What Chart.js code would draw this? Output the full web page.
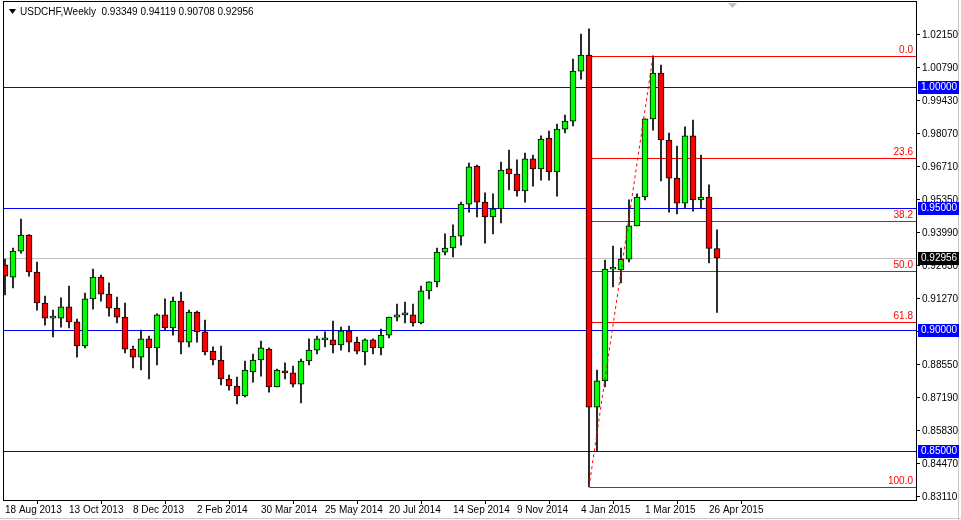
<!DOCTYPE html>
<html><head><meta charset="utf-8">
<script src="https://cdn.jsdelivr.net/npm/chart.js@4/dist/chart.umd.min.js"></script>
<style>html,body{margin:0;padding:0;background:#fff}#w{width:961px;height:520px}</style>
</head><body><div id="w"><canvas id="c" width="961" height="520"></canvas></div>
<script>
const opens  = [0.9267,0.9217,0.9324,0.9390,0.9238,0.9110,0.9048,0.9048,0.9094,0.9032,0.8933,0.9127,0.9217,0.9147,0.9089,0.9052,0.8920,0.8887,0.8962,0.8925,0.9061,0.9007,0.9118,0.8949,0.9073,0.8991,0.8912,0.8875,0.8797,0.8768,0.8727,0.8826,0.8875,0.8920,0.8764,0.8830,0.8822,0.8776,0.8871,0.8916,0.8958,0.8958,0.8937,0.8995,0.8949,0.8908,0.8958,0.8925,0.8978,0.9052,0.9061,0.9061,0.9028,0.9160,0.9197,0.9320,0.9337,0.9386,0.9518,0.9675,0.9526,0.9465,0.9498,0.9663,0.9642,0.9572,0.9704,0.9663,0.9790,0.9650,0.9827,0.9860,1.0066,1.0132,0.8681,0.8789,0.9250,0.9246,0.9291,0.9428,0.9547,0.9869,1.0058,0.9782,0.9625,0.9522,0.9799,0.9535,0.9547,0.93349];
const highs  = [0.9291,0.9337,0.9456,0.9392,0.9279,0.9139,0.9081,0.9131,0.9180,0.9044,0.9151,0.9250,0.9225,0.9193,0.9135,0.9110,0.8933,0.8999,0.8974,0.9065,0.9127,0.9135,0.9155,0.9081,0.9077,0.9040,0.8929,0.8933,0.8813,0.8805,0.8871,0.8900,0.8953,0.8925,0.8838,0.8863,0.8850,0.8879,0.8962,0.8974,0.8991,0.9036,0.9011,0.9015,0.8970,0.8962,0.8962,0.9003,0.9052,0.9106,0.9114,0.9106,0.9180,0.9197,0.9337,0.9395,0.9432,0.9526,0.9687,0.9679,0.9564,0.9560,0.9691,0.9741,0.9700,0.9728,0.9720,0.9799,0.9819,0.9848,0.9885,1.0116,1.0219,1.0240,0.8834,0.9287,0.9345,0.9337,0.9535,0.9560,0.9869,1.0129,1.0091,0.9811,0.9757,0.9836,0.9864,0.9720,0.9597,0.94119];
const lows   = [0.9143,0.9172,0.9316,0.9221,0.9081,0.9019,0.8970,0.9011,0.9007,0.8887,0.8925,0.9085,0.9118,0.9056,0.9028,0.8904,0.8842,0.8834,0.8797,0.8855,0.8999,0.8978,0.8900,0.8929,0.8949,0.8896,0.8855,0.8772,0.8751,0.8694,0.8723,0.8784,0.8809,0.8743,0.8764,0.8797,0.8764,0.8698,0.8855,0.8900,0.8929,0.8904,0.8916,0.8908,0.8900,0.8855,0.8900,0.8896,0.8966,0.9036,0.9028,0.9015,0.9024,0.9127,0.9176,0.9308,0.9300,0.9349,0.9485,0.9465,0.9357,0.9395,0.9440,0.9576,0.9551,0.9526,0.9592,0.9617,0.9617,0.9551,0.9811,0.9840,1.0033,0.8352,0.8500,0.8764,0.9176,0.9193,0.9279,0.9428,0.9535,0.9823,0.9613,0.9485,0.9477,0.9502,0.9489,0.9502,0.9275,0.90708];
const closes = [0.9221,0.9324,0.9390,0.9238,0.9110,0.9048,0.9050,0.9094,0.9032,0.8933,0.9127,0.9217,0.9147,0.9089,0.9052,0.8920,0.8887,0.8962,0.8925,0.9061,0.9007,0.9118,0.8949,0.9073,0.8991,0.8908,0.8875,0.8797,0.8768,0.8727,0.8834,0.8875,0.8925,0.8764,0.8834,0.8822,0.8776,0.8871,0.8916,0.8962,0.8960,0.8937,0.8995,0.8949,0.8912,0.8958,0.8925,0.8978,0.9052,0.9061,0.9065,0.9028,0.9160,0.9197,0.9320,0.9337,0.9386,0.9518,0.9671,0.9526,0.9465,0.9498,0.9658,0.9642,0.9572,0.9704,0.9663,0.9786,0.9650,0.9827,0.9860,1.0066,1.0132,0.8681,0.8789,0.9250,0.9252,0.9291,0.9428,0.9547,0.9869,1.0058,0.9782,0.9625,0.9522,0.9799,0.9535,0.9547,0.9335,0.92956];
const dateLabels = ['18 Aug 2013','13 Oct 2013','8 Dec 2013','2 Feb 2014','30 Mar 2014','25 May 2014','20 Jul 2014','14 Sep 2014','9 Nov 2014','4 Jan 2015','1 Mar 2015','26 Apr 2015'];
const dateTickStep = 8;
const priceTicks = [0.83110,0.84470,0.85830,0.87190,0.88550,0.89910,0.91270,0.92630,0.93990,0.95350,0.96710,0.98070,0.99430,1.00790,1.02150];
const levelLines = [1.0, 0.95, 0.90, 0.85];
const fibLevels = [0, 23.6, 38.2, 50, 61.8, 100];
const fibHigh = 1.0129, fibLow = 0.8352, fibLowIndex = 73, fibHighIndex = 81;
const lastPrice = 0.92956;
const header = 'USDCHF,Weekly  0.93349 0.94119 0.90708 0.92956';

const FAM = '"Liberation Sans", Arial, sans-serif';
const FONT = '10px ' + FAM;
const overlay = {
  id:'overlay',
  beforeDatasetsDraw(ch){
    const {ctx, chartArea:a, scales:{x,y}} = ch;
    ctx.save();
    ctx.lineWidth = 1;
    let py = Math.round(y.getPixelForValue(lastPrice))+0.5;
    ctx.strokeStyle='#c0c0c0'; ctx.beginPath(); ctx.moveTo(a.left,py); ctx.lineTo(a.right,py); ctx.stroke();
    levelLines.forEach(v=>{const yy=Math.round(y.getPixelForValue(v))+0.5;ctx.strokeStyle='#0000ff';ctx.beginPath();ctx.moveTo(a.left,yy);ctx.lineTo(a.right,yy);ctx.stroke();});
    const x0 = Math.round(x.getPixelForValue(fibLowIndex))+0.5;
    ctx.font='10px '+FAM; ctx.textAlign='right'; ctx.textBaseline='bottom';
    fibLevels.forEach(l=>{const v=fibHigh-(fibHigh-fibLow)*l/100;const yy=Math.round(y.getPixelForValue(v))+0.5;
      ctx.strokeStyle='#ff0000';ctx.beginPath();ctx.moveTo(x0,yy);ctx.lineTo(a.right,yy);ctx.stroke();
      ctx.fillStyle='#ff0000';ctx.fillText(l.toFixed(1),a.right-3,yy-1);});
    ctx.restore();
  },
  afterDraw(ch){
    const {ctx, chartArea:a, scales:{y}} = ch;
    ctx.save();
    ctx.strokeStyle='#000'; ctx.lineWidth=1;
    ctx.strokeRect(a.left-0.5,a.top-0.5,a.right-a.left+1,a.bottom-a.top+1);
    ctx.strokeStyle='#c8c8c8';ctx.beginPath();ctx.moveTo(958.5,0);ctx.lineTo(958.5,520);ctx.moveTo(0,518.5);ctx.lineTo(961,518.5);ctx.stroke();
    ctx.font=FONT; ctx.textBaseline='middle'; ctx.textAlign='left';
    const box=(v,bg)=>{const yy=Math.round(y.getPixelForValue(v));ctx.fillStyle=bg;ctx.fillRect(a.right+2,yy-6,41,13);ctx.fillStyle='#fff';ctx.fillText(v.toFixed(5),a.right+5,yy+0.5);};
    levelLines.forEach(v=>box(v,'#0000ff'));
    box(lastPrice,'#000');
    ctx.fillStyle='#000';ctx.textBaseline='middle';ctx.fillText(header,20,12);
    ctx.beginPath();ctx.moveTo(9,9);ctx.lineTo(16,9);ctx.lineTo(12.5,14);ctx.closePath();ctx.fill();
    ctx.fillStyle='#c0c0c0';ctx.beginPath();ctx.moveTo(728,3);ctx.lineTo(737,3);ctx.lineTo(732.5,8);ctx.closePath();ctx.fill();
    ctx.restore();
  }
};

const idx = opens.map((_,i)=>i);
new Chart(document.getElementById('c'),{
  type:'bar',
  data:{datasets:[
    {type:'line',data:[{x:fibLowIndex,y:fibLow},{x:fibHighIndex,y:fibHigh}],borderColor:'#ff0000',borderWidth:1,borderDash:[3,3],pointRadius:0,order:0},
    {data:idx.map(i=>({x:i,y:[opens[i],closes[i]]})),barThickness:6,minBarLength:2,
      backgroundColor:idx.map(i=>closes[i]>=opens[i]?'#00ff00':'#ff0000'),borderColor:'#000',borderWidth:1,borderSkipped:false,grouped:false,order:1},
    {data:idx.map(i=>({x:i,y:[lows[i],highs[i]]})),barThickness:1,backgroundColor:'#000',grouped:false,order:2}
  ]},
  plugins:[overlay],
  options:{
    responsive:false,animation:false,devicePixelRatio:1,
    layout:{padding:{left:4,top:2,right:0,bottom:0}},
    plugins:{legend:{display:false},tooltip:{enabled:false}},
    scales:{
      x:{type:'linear',min:-0.125,max:113.875,offset:false,
        afterBuildTicks:s=>{s.ticks=dateLabels.map((_,k)=>({value:k*dateTickStep}));},
        afterFit:s=>{s.height=20;s.paddingLeft=0;s.paddingRight=0;},
        grid:{drawOnChartArea:false,tickLength:4,color:'#000'},border:{display:false},
        ticks:{align:'start',maxRotation:0,autoSkip:false,padding:0,color:'#000',font:{family:FAM,size:10},
          callback:(v)=>dateLabels[Math.round(v/dateTickStep)]}},
      y:{position:'right',min:0.8298,max:1.0351,
        afterBuildTicks:s=>{s.ticks=priceTicks.map(v=>({value:v}));},
        afterFit:s=>{s.width=45;s.paddingTop=0;s.paddingBottom=0;},
        grid:{drawOnChartArea:false,tickLength:4,color:'#000'},border:{display:false},
        ticks:{padding:2,color:'#000',font:{family:FAM,size:10},callback:v=>v.toFixed(5)}}
    }
  }
});
</script></body></html>
